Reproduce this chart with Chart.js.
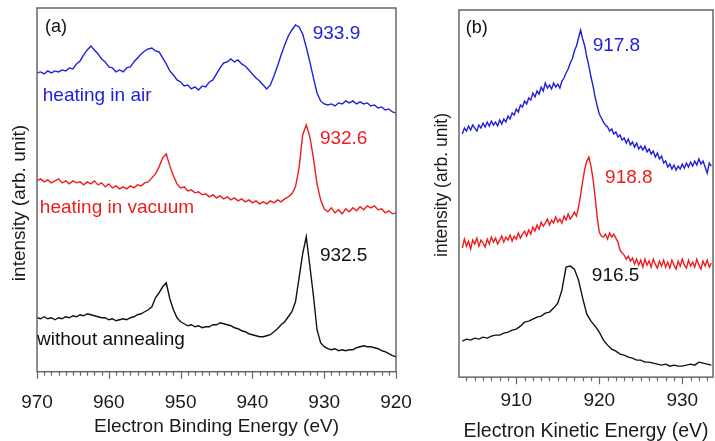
<!DOCTYPE html>
<html lang="en">
<head>
  <meta charset="UTF-8">
  <title>Cu 2p XPS and Auger spectra</title>
  <script src="https://cdn.jsdelivr.net/npm/chart.js"></script>
  <style>
    body { margin: 0; background: #fff; }
    .panel { position: absolute; top: 0; height: 441px; }
    #panelA { left: 0; width: 420px; }
    #panelB { left: 420px; width: 295px; }
  </style>
</head>
<body>

<div class="panel" id="panelA"><canvas id="chartA"></canvas></div>
<div class="panel" id="panelB"><canvas id="chartB"></canvas></div>

<script>
  // ---- (a) binding energy scan, eV ----
  const bindingEnergy = [
    970, 969.5, 969, 968.5, 968, 967.5, 967, 966.5, 966, 965.5,
    965, 964.5, 964, 963.5, 963, 962.5, 962, 961.5, 961, 960.5,
    960, 959.5, 959, 958.5, 958, 957.5, 957, 956.5, 956, 955.5,
    955, 954.5, 954, 953.5, 953, 952.5, 952, 951.5, 951, 950.5,
    950, 949.5, 949, 948.5, 948, 947.5, 947, 946.5, 946, 945.5,
    945, 944.5, 944, 943.5, 943, 942.5, 942, 941.5, 941, 940.5,
    940, 939.5, 939, 938.5, 938, 937.5, 937, 936.5, 936, 935.5,
    935, 934.5, 934, 933.5, 933, 932.5, 932, 931.5, 931, 930.5,
    930, 929.5, 929, 928.5, 928, 927.5, 927, 926.5, 926, 925.5,
    925, 924.5, 924, 923.5, 923, 922.5, 922, 921.5, 921, 920.5,
    920
  ];
  // intensities, arb. units (curves are offset for clarity)
  const airBinding = [
    299, 300, 298, 301, 299, 301, 300, 302, 301, 304,
    303, 308, 311, 317, 322, 326, 322, 318, 313, 310,
    305, 304, 300, 302, 300, 304, 305, 310, 314, 318,
    321, 323, 324, 321, 320, 314, 308, 301, 297, 292,
    290, 286, 287, 283, 285, 282, 286, 285, 290, 292,
    298, 304, 309, 310, 313, 310, 312, 308, 306, 302,
    298, 294, 291, 287, 283, 287, 296, 306, 317, 327,
    336, 342, 347, 345, 338, 325, 310, 294, 279, 271,
    268, 267, 268, 266, 269, 268, 271, 269, 271, 268,
    270, 268, 269, 266, 267, 264, 265, 262, 263, 260,
    259
  ];
  const vacuumBinding = [
    191, 193, 190, 192, 189, 191, 193, 189, 191, 188,
    191, 189, 190, 187, 190, 188, 191, 187, 189, 185,
    188, 184, 186, 183, 185, 183, 186, 184, 187, 186,
    189, 190, 194, 198, 205, 214, 218, 206, 196, 188,
    184, 185, 181, 182, 179, 180, 177, 178, 175, 177,
    174, 176, 173, 175, 172, 174, 171, 173, 170, 172,
    169, 171, 168, 170, 168, 171, 169, 172, 170, 173,
    175, 178, 185, 204, 237, 247, 235, 214, 188, 172,
    163, 160, 164, 159, 162, 158, 163, 160, 164, 161,
    165, 162, 166, 164, 166, 162, 163, 159, 161, 158,
    159
  ];
  const rawBinding = [
    54, 53, 55, 53, 54, 52, 54, 53, 55, 54,
    56, 55, 57, 56, 58, 57, 56, 55, 54, 54,
    52, 53, 51, 52, 53, 52, 54, 55, 57, 58,
    60, 62, 65, 74, 79, 85, 89, 73, 62, 54,
    50, 48, 46, 47, 45, 46, 44, 45, 45, 47,
    47, 49, 48, 47, 46, 44, 43, 41, 40, 38,
    37, 36, 35, 35, 36, 37, 40, 43, 47, 50,
    55, 60, 70, 94, 118, 135, 106, 76, 42, 29,
    25, 23, 22, 23, 21, 22, 21, 22, 22, 24,
    25, 26, 25, 25, 24, 23, 21, 20, 18, 16,
    15
  ];

  // ---- (b) kinetic energy scan, eV ----
  // the two noisy scans were taken on a finer step
  const kineticFine = [
    903.5, 903.75, 904, 904.25, 904.5, 904.75, 905, 905.25,
    905.5, 905.75, 906, 906.25, 906.5, 906.75, 907, 907.25,
    907.5, 907.75, 908, 908.25, 908.5, 908.75, 909, 909.25,
    909.5, 909.75, 910, 910.25, 910.5, 910.75, 911, 911.25,
    911.5, 911.75, 912, 912.25, 912.5, 912.75, 913, 913.25,
    913.5, 913.75, 914, 914.25, 914.5, 914.75, 915, 915.25,
    915.5, 915.75, 916, 916.25, 916.5, 916.75, 917, 917.25,
    917.5, 917.75, 918, 918.25, 918.5, 918.75, 919, 919.25,
    919.5, 919.75, 920, 920.25, 920.5, 920.75, 921, 921.25,
    921.5, 921.75, 922, 922.25, 922.5, 922.75, 923, 923.25,
    923.5, 923.75, 924, 924.25, 924.5, 924.75, 925, 925.25,
    925.5, 925.75, 926, 926.25, 926.5, 926.75, 927, 927.25,
    927.5, 927.75, 928, 928.25, 928.5, 928.75, 929, 929.25,
    929.5, 929.75, 930, 930.25, 930.5, 930.75, 931, 931.25,
    931.5, 931.75, 932, 932.25, 932.5, 932.75, 933, 933.25,
    933.5
  ];
  const airKinetic = [
    243, 249, 246, 251, 247, 252, 249, 246,
    252, 249, 254, 250, 255, 251, 256, 252,
    255, 251, 257, 253, 258, 255, 261, 258,
    264, 262, 268, 265, 272, 270, 276, 273,
    279, 277, 284, 280, 286, 283, 290, 286,
    294, 289, 292, 288, 294, 290, 293, 289,
    296, 299, 304, 308, 314, 318, 326, 331,
    339, 347, 338, 331, 320, 311, 300, 291,
    280, 271, 263, 259, 255, 252, 250, 246,
    248, 243, 245, 240, 242, 237, 239, 234,
    238, 232, 235, 230, 234, 228, 231, 227,
    231, 225, 228, 223, 226, 220, 224, 218,
    221, 214, 216, 210, 213, 208, 212, 207,
    211, 208, 213, 209, 214, 210, 215, 211,
    216, 212, 218, 213, 216, 210, 204, 214,
    211
  ];
  const vacuumKinetic = [
    129, 138, 131, 136, 128, 137, 133, 139,
    131, 137, 134, 130, 138, 133, 140, 135,
    139, 133, 137, 141, 135, 140, 137, 142,
    136, 141, 138, 144, 139, 143, 146, 141,
    147, 143, 150, 146, 152, 148, 155, 151,
    154, 158, 152, 157, 154, 160, 155, 158,
    154, 161, 157, 163, 158, 161, 165, 161,
    170, 182, 196, 208, 216, 220, 211, 198,
    180, 160, 145, 141, 140, 143, 138, 144,
    140, 143, 139, 135, 127, 124, 122, 118,
    121, 116, 119, 113, 118, 112, 117, 110,
    118, 112, 116, 110, 118, 113, 109, 116,
    111, 117, 110, 115, 109, 117, 112, 108,
    116, 111, 118, 112, 109, 117, 111, 115,
    110, 118, 112, 108, 116, 111, 117, 110,
    114
  ];
  const kineticEnergy = [
    903.5, 904, 904.5, 905, 905.5, 906, 906.5, 907, 907.5, 908,
    908.5, 909, 909.5, 910, 910.5, 911, 911.5, 912, 912.5, 913,
    913.5, 914, 914.5, 915, 915.5, 916, 916.5, 917, 917.5, 918,
    918.5, 919, 919.5, 920, 920.5, 921, 921.5, 922, 922.5, 923,
    923.5, 924, 924.5, 925, 925.5, 926, 926.5, 927, 927.5, 928,
    928.5, 929, 929.5, 930, 930.5, 931, 931.5, 932, 932.5, 933,
    933.5
  ];
  const rawKinetic = [
    36, 38, 37, 39, 38, 40, 39, 41, 42, 42,
    44, 45, 47, 48, 51, 55, 56, 58, 60, 61,
    64, 65, 69, 74, 87, 110, 111, 108, 97, 79,
    63, 56, 51, 45, 37, 32, 28, 26, 23, 22,
    20, 19, 17, 17, 15, 15, 14, 13, 12, 13,
    11, 12, 11, 11, 12, 13, 12, 15, 14, 13,
    12
  ];

  const bindingTicks = [970, 960, 950, 940, 930, 920];
  const kineticTicks = [910, 920, 930];

  const BLUE = '#2020dc';
  const RED = '#f01c1c';
  const BLACK = '#111111';
  const FONT = '"Liberation Sans", Arial, sans-serif';

  Chart.defaults.font.family = FONT;
  Chart.defaults.color = '#1a1a1a';

  let pts = (xs, ys) => xs.map((x, i) => ({ x: x, y: ys[i] }));

  let line = (data, color) => ({
    data: data,
    borderColor: color,
    borderWidth: 1.4,
    pointRadius: 0,
    tension: 0,
    fill: false
  });

  // invisible tick marks only push the labels down; the real ticks are drawn in 'frame'
  let hiddenTicks = len => ({
    display: true,
    drawOnChartArea: false,
    drawTicks: true,
    tickLength: len,
    tickColor: 'rgba(0,0,0,0)'
  });

  // box, minor ticks, peak labels and the vertical title
  const frame = {
    id: 'frame',
    afterDraw(chart, args, opts) {
      const { ctx, chartArea: a, scales: { x, y } } = chart;
      ctx.save();
      ctx.strokeStyle = '#666';
      ctx.lineWidth = 1.5;
      ctx.strokeRect(a.left, a.top, a.right - a.left, a.bottom - a.top);

      ctx.lineWidth = 1.2;
      ctx.beginPath();
      for (let v = Math.ceil(x.min); v <= x.max; v++) {
        let px = Math.round(x.getPixelForValue(v)) + 0.5;
        let len = v % 10 === 0 ? 7 : 4;
        ctx.moveTo(px, a.bottom);
        ctx.lineTo(px, a.bottom + len);
      }
      ctx.stroke();

      ctx.textAlign = 'left';
      ctx.textBaseline = 'middle';
      opts.notes.forEach(n => {
        ctx.font = (n.size || 19) + 'px ' + FONT;
        ctx.fillStyle = n.color;
        ctx.fillText(n.text, x.getPixelForValue(n.x), y.getPixelForValue(n.y));
      });

      ctx.translate(opts.yTitle.x, opts.yTitle.y);
      ctx.rotate(-Math.PI / 2);
      ctx.textAlign = 'center';
      ctx.font = opts.yTitle.size + 'px ' + FONT;
      ctx.fillStyle = '#1a1a1a';
      ctx.fillText('intensity (arb. unit)', 0, 0);
      ctx.restore();
    }
  };

  new Chart(document.getElementById('chartA'), {
    type: 'line',
    data: {
      datasets: [
        line(pts(bindingEnergy, airBinding), BLUE),
        line(pts(bindingEnergy, vacuumBinding), RED),
        line(pts(bindingEnergy, rawBinding), BLACK)
      ]
    },
    options: {
      responsive: true,
      maintainAspectRatio: false,
      animation: false,
      layout: { padding: { left: 37, right: 24, top: 8, bottom: 1.5 } },
      plugins: {
        legend: { display: false },
        tooltip: { enabled: false },
        frame: {
          yTitle: { x: 20, y: 203, size: 19 },
          notes: [
            { text: '(a)', x: 968.9, y: 345, color: BLACK, size: 18 },
            { text: '933.9', x: 931.6, y: 338, color: BLUE },
            { text: 'heating in air', x: 969.2, y: 276, color: BLUE },
            { text: '932.6', x: 930.6, y: 233, color: RED },
            { text: 'heating in vacuum', x: 969.6, y: 164, color: RED },
            { text: '932.5', x: 930.6, y: 116, color: BLACK },
            { text: 'without annealing', x: 970, y: 32, color: BLACK }
          ]
        }
      },
      scales: {
        x: {
          type: 'linear',
          reverse: true,
          min: 920,
          max: 970,
          afterBuildTicks: s => { s.ticks = bindingTicks.map(v => ({ value: v })); },
          grid: hiddenTicks(17.2),
          border: { display: false },
          ticks: { font: { size: 19 }, padding: 2, maxRotation: 0, autoSkip: false },
          title: {
            display: true,
            text: 'Electron Binding Energy (eV)',
            font: { size: 19 },
            padding: { top: 0, bottom: 1 }
          }
        },
        y: { display: false, min: 0, max: 364 }
      }
    },
    plugins: [frame]
  });

  new Chart(document.getElementById('chartB'), {
    type: 'line',
    data: {
      datasets: [
        line(pts(kineticFine, airKinetic), BLUE),
        line(pts(kineticFine, vacuumKinetic), RED),
        line(pts(kineticEnergy, rawKinetic), BLACK)
      ]
    },
    options: {
      responsive: true,
      maintainAspectRatio: false,
      animation: false,
      layout: { padding: { left: 39, right: 2, top: 10, bottom: 1 } },
      plugins: {
        legend: { display: false },
        tooltip: { enabled: false },
        frame: {
          yTitle: { x: 22, y: 185, size: 17.5 },
          notes: [
            { text: '(b)', x: 903.9, y: 349, color: BLACK, size: 18 },
            { text: '917.8', x: 919.2, y: 331, color: BLUE },
            { text: '918.8', x: 920.7, y: 199, color: RED },
            { text: '916.5', x: 919.1, y: 101, color: BLACK }
          ]
        }
      },
      scales: {
        x: {
          type: 'linear',
          min: 903.1,
          max: 933.7,
          afterBuildTicks: s => { s.ticks = kineticTicks.map(v => ({ value: v })); },
          grid: hiddenTicks(10.5),
          border: { display: false },
          ticks: { font: { size: 19 }, padding: 2, maxRotation: 0, autoSkip: false },
          title: {
            display: true,
            text: 'Electron Kinetic Energy (eV)',
            font: { size: 19.5, lineHeight: 0.9 },
            padding: { top: 8, bottom: 0 }
          }
        },
        y: { display: false, min: 0, max: 367 }
      }
    },
    plugins: [frame]
  });
</script>

</body>
</html>
